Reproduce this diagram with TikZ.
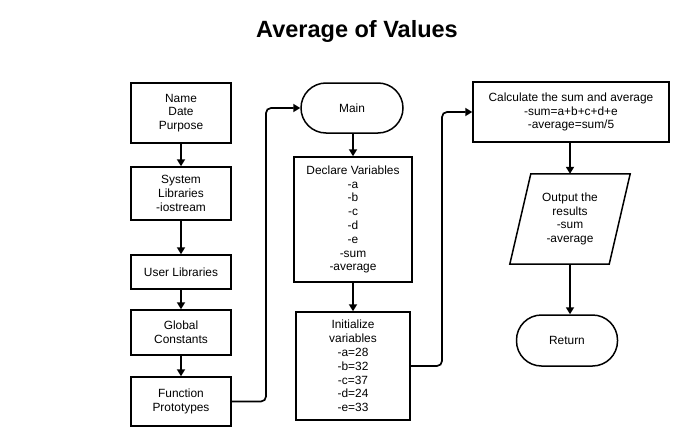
\documentclass[tikz,border=0pt]{standalone}
\usepackage{fontspec}
\setmainfont{Liberation Sans}
\usetikzlibrary{arrows.meta,calc}
\begin{document}
\begin{tikzpicture}[x=1pt,y=1pt,
  every node/.style={font=\fontsize{11.9}{13.8}\selectfont, align=center, inner sep=0pt},
  box/.style={draw, line width=1.5pt, rectangle},
  term/.style={draw, line width=1.5pt, rectangle, rounded corners=25pt},
  arr/.style={line width=1.7pt, -{Triangle[width=8pt,length=7pt]}},
  conn/.style={line width=1.7pt, rounded corners=5pt, -{Triangle[width=8pt,length=7pt]}}]
\useasboundingbox (0,0) rectangle (693,-447);
\node[anchor=base, font=\fontsize{23.5}{28}\selectfont\bfseries] (title) at (357,-37) {Average of Values};
% left column
\node[box, minimum width=100, minimum height=60] (ndp) at (181,-113) {Name\\Date\\Purpose};
\node[box, minimum width=100, minimum height=53] (sys) at (181,-193.5) {System\\Libraries\\-iostream};
\node[box, minimum width=100, minimum height=34] (usr) at (181,-272) {User Libraries};
\node[box, minimum width=100, minimum height=45] (glb) at (181,-332.5) {Global\\Constants};
\node[box, minimum width=100, minimum height=49] (fp) at (181,-401.5) {Function\\Prototypes};
% middle column
\node[term, minimum width=102, minimum height=50] (main) at (352,-108) {Main};
\node[box, minimum width=118, minimum height=125] (decl) at (353,-219.5) {Declare Variables\\-a\\-b\\-c\\-d\\-e\\-sum\\-average};
\node[box, minimum width=114, minimum height=108] (init) at (353,-366) {Initialize\\variables\\-a=28\\-b=32\\-c=37\\-d=24\\-e=33};
% right column
\node[box, minimum width=196, minimum height=60] (calc) at (571,-112) {Calculate the sum and average\\-sum=a+b+c+d+e\\-average=sum/5};
\node[minimum width=120, minimum height=90] (out) at (570,-219) {Output the\\results\\-sum\\-average};
\draw[line width=1.5pt, line join=miter] ($(out.north west)+(21,0)$) -- (out.north east) -- ($(out.south east)+(-21,0)$) -- (out.south west) -- cycle;
\node[term, minimum width=101, minimum height=51] (ret) at (567,-340.5) {Return};
% coordinates for bends
\coordinate (j1) at (266,-108);
\coordinate (j2) at (442,-112);
% connectors
\draw[arr] (ndp) -- (sys);
\draw[arr] (sys) -- (usr);
\draw[arr] (usr) -- (glb);
\draw[arr] (glb) -- (fp);
\draw[conn] (fp.east) -- (fp.east -| j1) -- (j1 |- main.west) -- (main.west);
\draw[arr] (main.south -| decl.north) -- (decl.north);
\draw[arr] (decl.south) -- (decl.south |- init.north);
\draw[conn] (init.east) -- (init.east -| j2) -- (j2 |- calc.west) -- (calc.west);
\draw[arr] (calc.south -| out.north) -- (out.north);
\draw[arr] (out.south) -- (out.south |- ret.north);
\end{tikzpicture}
\end{document}
